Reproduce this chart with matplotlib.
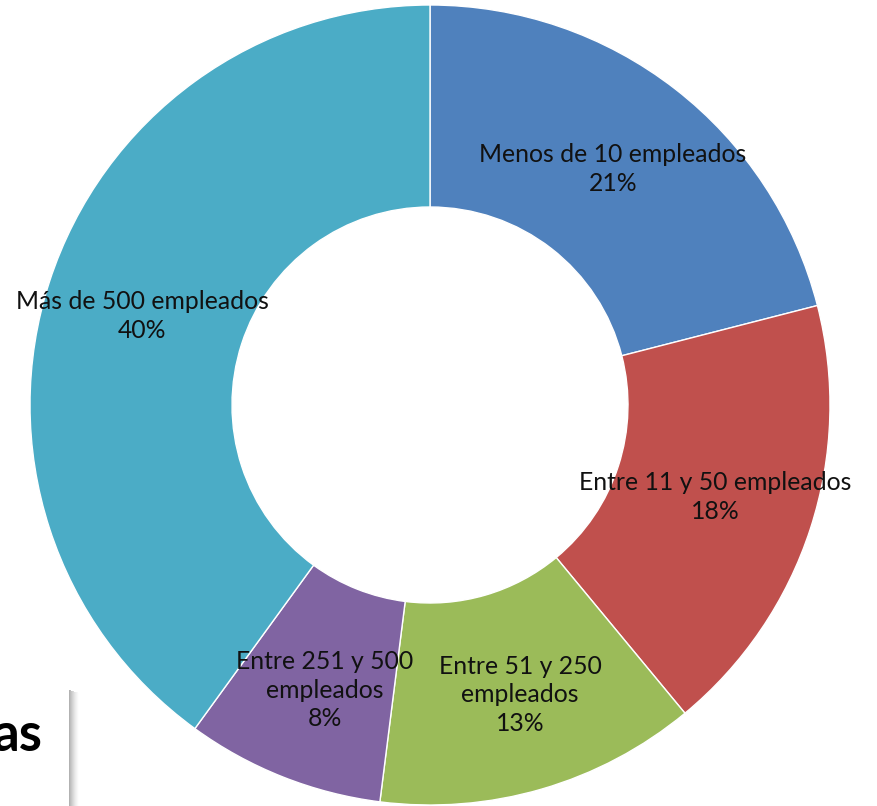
import matplotlib
matplotlib.use("Agg")
import matplotlib.pyplot as plt
import matplotlib.patches as mpatches

labels = ["Menos de 10 empleados", "Entre 11 y 50 empleados", "Entre 51 y 250\nempleados",
          "Entre 251 y 500\nempleados", "Más de 500 empleados"]
values = [21, 18, 13, 8, 40]
colors = ["#4F81BD", "#C0504D", "#9BBB59", "#8064A2", "#4BACC6"]
# label centres in pixel coordinates (x, y from top)
label_pos = [(613, 169), (715, 497), (520, 695), (325, 690), (142, 316)]

W, H = 878, 806
fig = plt.figure(figsize=(W / 100, H / 100), dpi=100)
ax = fig.add_axes([0, 0, 1, 1])

ax.pie(values, colors=colors, startangle=90, counterclock=False,
       radius=400, center=(430, H - 405), frame=True,
       wedgeprops=dict(width=202, edgecolor="white", linewidth=1))
ax.set_xlim(0, W)
ax.set_ylim(0, H)
ax.axis("off")

for lab, v, (px, py) in zip(labels, values, label_pos):
    ax.text(px, H - py, f"{lab}\n{v}%", ha="center", va="center",
            fontsize=17.8, family="Lato", color="#111111", linespacing=1.3)

# white box with shadow in the lower-left corner
for i in range(10):
    ax.add_patch(mpatches.Rectangle((69 + i, 0), 1.05, H - 690 - i * 0.3,
                                    facecolor="black", alpha=0.3 * (1 - i / 10) ** 1.5,
                                    edgecolor="none", zorder=4))
ax.add_patch(mpatches.Rectangle((-5, 0), 74, H - 689, facecolor="white",
                                edgecolor="none", zorder=5))
ax.text(43, H - 751, "as", ha="right", va="baseline", fontsize=38,
        fontweight="bold", family="Lato", color="black", zorder=6)

fig.savefig("out.png", dpi=100)
